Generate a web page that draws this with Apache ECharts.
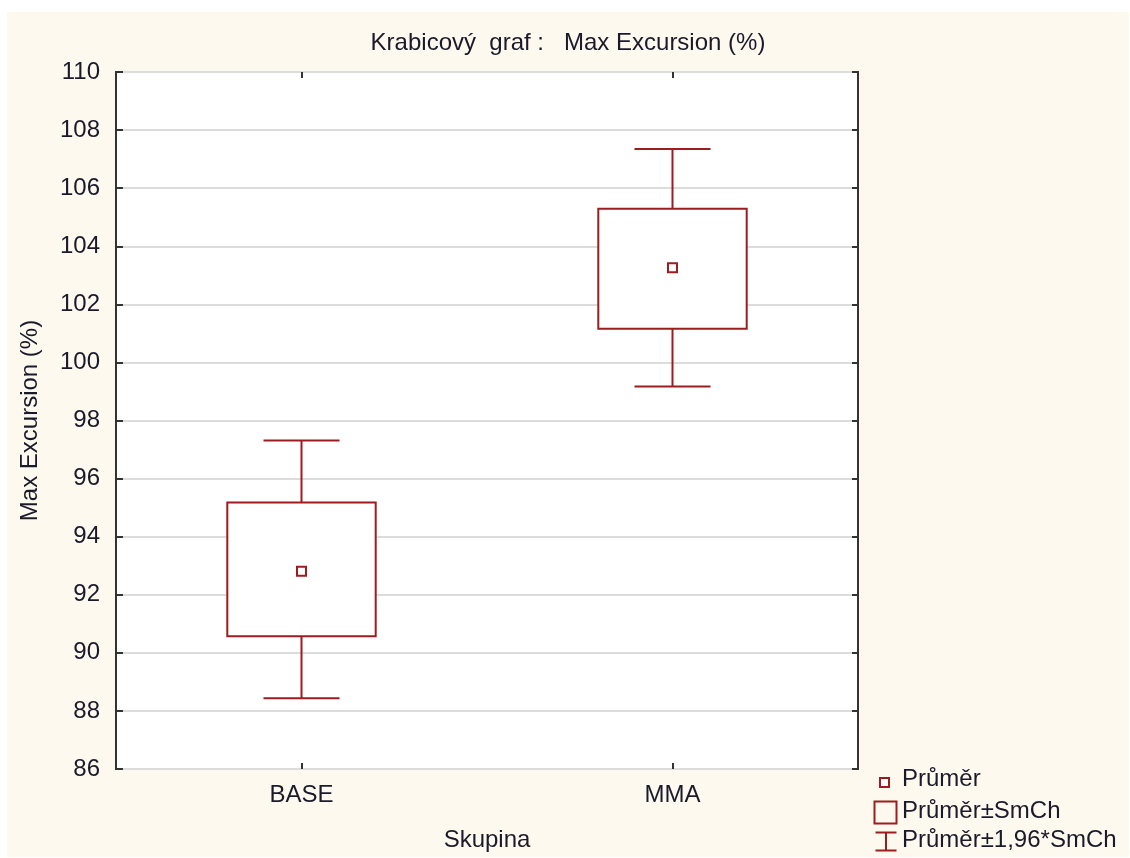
<!DOCTYPE html>
<html>
<head>
<meta charset="utf-8">
<script src="https://cdn.jsdelivr.net/npm/echarts@6/dist/echarts.min.js"></script>
<style>
html,body{margin:0;padding:0;background:#ffffff;width:1130px;height:858px;overflow:hidden;}
#chart{position:absolute;left:7px;top:12px;width:1122px;height:845px;}
</style>
</head>
<body>
<div id="chart"></div>
<script>
// ---- data ----
const categories = ['BASE', 'MMA'];
const means = [92.81, 103.26];
const seLow = [90.57, 101.16];
const seHigh = [95.18, 105.29];
const ciLow = [88.44, 99.17];
const ciHigh = [97.31, 107.35];
const yTicks = [86, 88, 90, 92, 94, 96, 98, 100, 102, 104, 106, 108, 110];
const titleText = 'Krabicový  graf :   Max Excursion (%)';
const yName = 'Max Excursion (%)';
const xName = 'Skupina';
const legendNames = ['Průměr', 'Průměr±SmCh', 'Průměr±1,96*SmCh'];

const RED = '#9c1c1f';
const TXT = '#1a1a2a';
const FONT = '"Liberation Sans", Arial, sans-serif';
const FS = 24;

const chart = echarts.init(document.getElementById('chart'));

const whiskerData = categories.map((c, i) => [i, ciLow[i], ciHigh[i]]);
const boxData = categories.map((c, i) => [i, seLow[i], seHigh[i]]);
const meanData = categories.map((c, i) => [i, means[i]]);

const option = {
  backgroundColor: '#fef9ef',
  animation: false,
  title: {
    text: titleText,
    left: 'center',
    top: 14,
    textStyle: { fontFamily: FONT, fontSize: FS, fontWeight: 'normal', color: TXT }
  },
  grid: {
    left: 109, right: 271, top: 60, bottom: 87,
    show: true, backgroundColor: '#ffffff', borderColor: '#333333', borderWidth: 2
  },
  xAxis: [
    {
      type: 'category', data: categories, position: 'bottom',
      name: xName, nameLocation: 'middle', nameGap: 59,
      nameTextStyle: { fontFamily: FONT, fontSize: FS, color: TXT },
      axisLine: { show: false },
      axisTick: { show: true, inside: true, alignWithLabel: true, length: 6, lineStyle: { color: '#333', width: 2 } },
      axisLabel: { fontFamily: FONT, fontSize: FS, color: TXT, margin: 14 },
      splitLine: { show: false }
    },
    {
      type: 'category', data: categories, position: 'top',
      axisLine: { show: false },
      axisTick: { show: true, inside: true, alignWithLabel: true, length: 6, lineStyle: { color: '#333', width: 2 } },
      axisLabel: { show: false },
      splitLine: { show: false }
    }
  ],
  yAxis: [
    {
      type: 'value', min: yTicks[0], max: yTicks[yTicks.length - 1], interval: 2, position: 'left',
      name: yName, nameLocation: 'middle', nameGap: 74, nameRotate: 90,
      nameTextStyle: { fontFamily: FONT, fontSize: FS, color: TXT },
      axisLine: { show: false },
      axisTick: { show: true, inside: true, length: 7, lineStyle: { color: '#333', width: 2 } },
      axisLabel: { fontFamily: FONT, fontSize: FS, color: TXT, margin: 16 },
      splitLine: { show: true, lineStyle: { color: '#dcdcdc', width: 2 } }
    },
    {
      type: 'value', min: yTicks[0], max: yTicks[yTicks.length - 1], interval: 2, position: 'right',
      axisLine: { show: false },
      axisTick: { show: true, inside: true, length: 6, lineStyle: { color: '#333', width: 2 } },
      axisLabel: { show: false },
      splitLine: { show: false }
    }
  ],
  series: [
    {
      name: legendNames[2], type: 'custom', xAxisIndex: 0, yAxisIndex: 0,
      data: whiskerData, z: 2,
      renderItem: function (params, api) {
        const i = api.value(0);
        const top = api.coord([i, api.value(2)]);
        const bot = api.coord([i, api.value(1)]);
        const cw = api.size([1, 0])[0] * 0.205;
        const x = top[0];
        const st = { stroke: RED, lineWidth: 2, fill: null };
        return {
          type: 'group',
          children: [
            { type: 'line', shape: { x1: x, y1: top[1], x2: x, y2: bot[1] }, style: st },
            { type: 'line', shape: { x1: x - cw / 2, y1: top[1], x2: x + cw / 2, y2: top[1] }, style: st },
            { type: 'line', shape: { x1: x - cw / 2, y1: bot[1], x2: x + cw / 2, y2: bot[1] }, style: st }
          ]
        };
      }
    },
    {
      name: legendNames[1], type: 'custom', xAxisIndex: 0, yAxisIndex: 0,
      data: boxData, z: 3,
      renderItem: function (params, api) {
        const i = api.value(0);
        const top = api.coord([i, api.value(2)]);
        const bot = api.coord([i, api.value(1)]);
        const bw = api.size([1, 0])[0] * 0.4;
        return {
          type: 'rect',
          shape: { x: top[0] - bw / 2, y: top[1], width: bw, height: bot[1] - top[1] },
          style: { stroke: RED, lineWidth: 2, fill: '#ffffff' }
        };
      }
    },
    {
      name: legendNames[0], type: 'custom', xAxisIndex: 0, yAxisIndex: 0,
      data: meanData, z: 4,
      renderItem: function (params, api) {
        const i = api.value(0);
        const p = api.coord([i, api.value(1)]);
        const s = 9;
        return {
          type: 'rect',
          shape: { x: p[0] - s / 2, y: p[1] - s / 2, width: s, height: s },
          style: { stroke: RED, lineWidth: 2, fill: '#ffffff' }
        };
      }
    }
  ],
  graphic: [
    // legend: mean marker
    { type: 'rect', left: 872, top: 765, shape: { width: 9, height: 9 }, style: { stroke: RED, lineWidth: 2, fill: '#ffffff' } },
    { type: 'text', left: 895, top: 755, style: { text: legendNames[0], font: FS + 'px ' + FONT, fill: TXT } },
    // legend: box
    { type: 'rect', left: 865, top: 787, shape: { width: 22, height: 22 }, style: { stroke: RED, lineWidth: 2, fill: 'none' } },
    { type: 'text', left: 895, top: 787, style: { text: legendNames[1], font: FS + 'px ' + FONT, fill: TXT } },
    // legend: whisker
    {
      type: 'group', left: 866, top: 818,
      children: [
        { type: 'line', shape: { x1: 0, y1: 1, x2: 21, y2: 1 }, style: { stroke: RED, lineWidth: 2 } },
        { type: 'line', shape: { x1: 10.5, y1: 1, x2: 10.5, y2: 19 }, style: { stroke: RED, lineWidth: 2 } },
        { type: 'line', shape: { x1: 0, y1: 19, x2: 21, y2: 19 }, style: { stroke: RED, lineWidth: 2 } }
      ]
    },
    { type: 'text', left: 895, top: 816, style: { text: legendNames[2], font: FS + 'px ' + FONT, fill: TXT } }
  ]
};

chart.setOption(option);
</script>
</body>
</html>
